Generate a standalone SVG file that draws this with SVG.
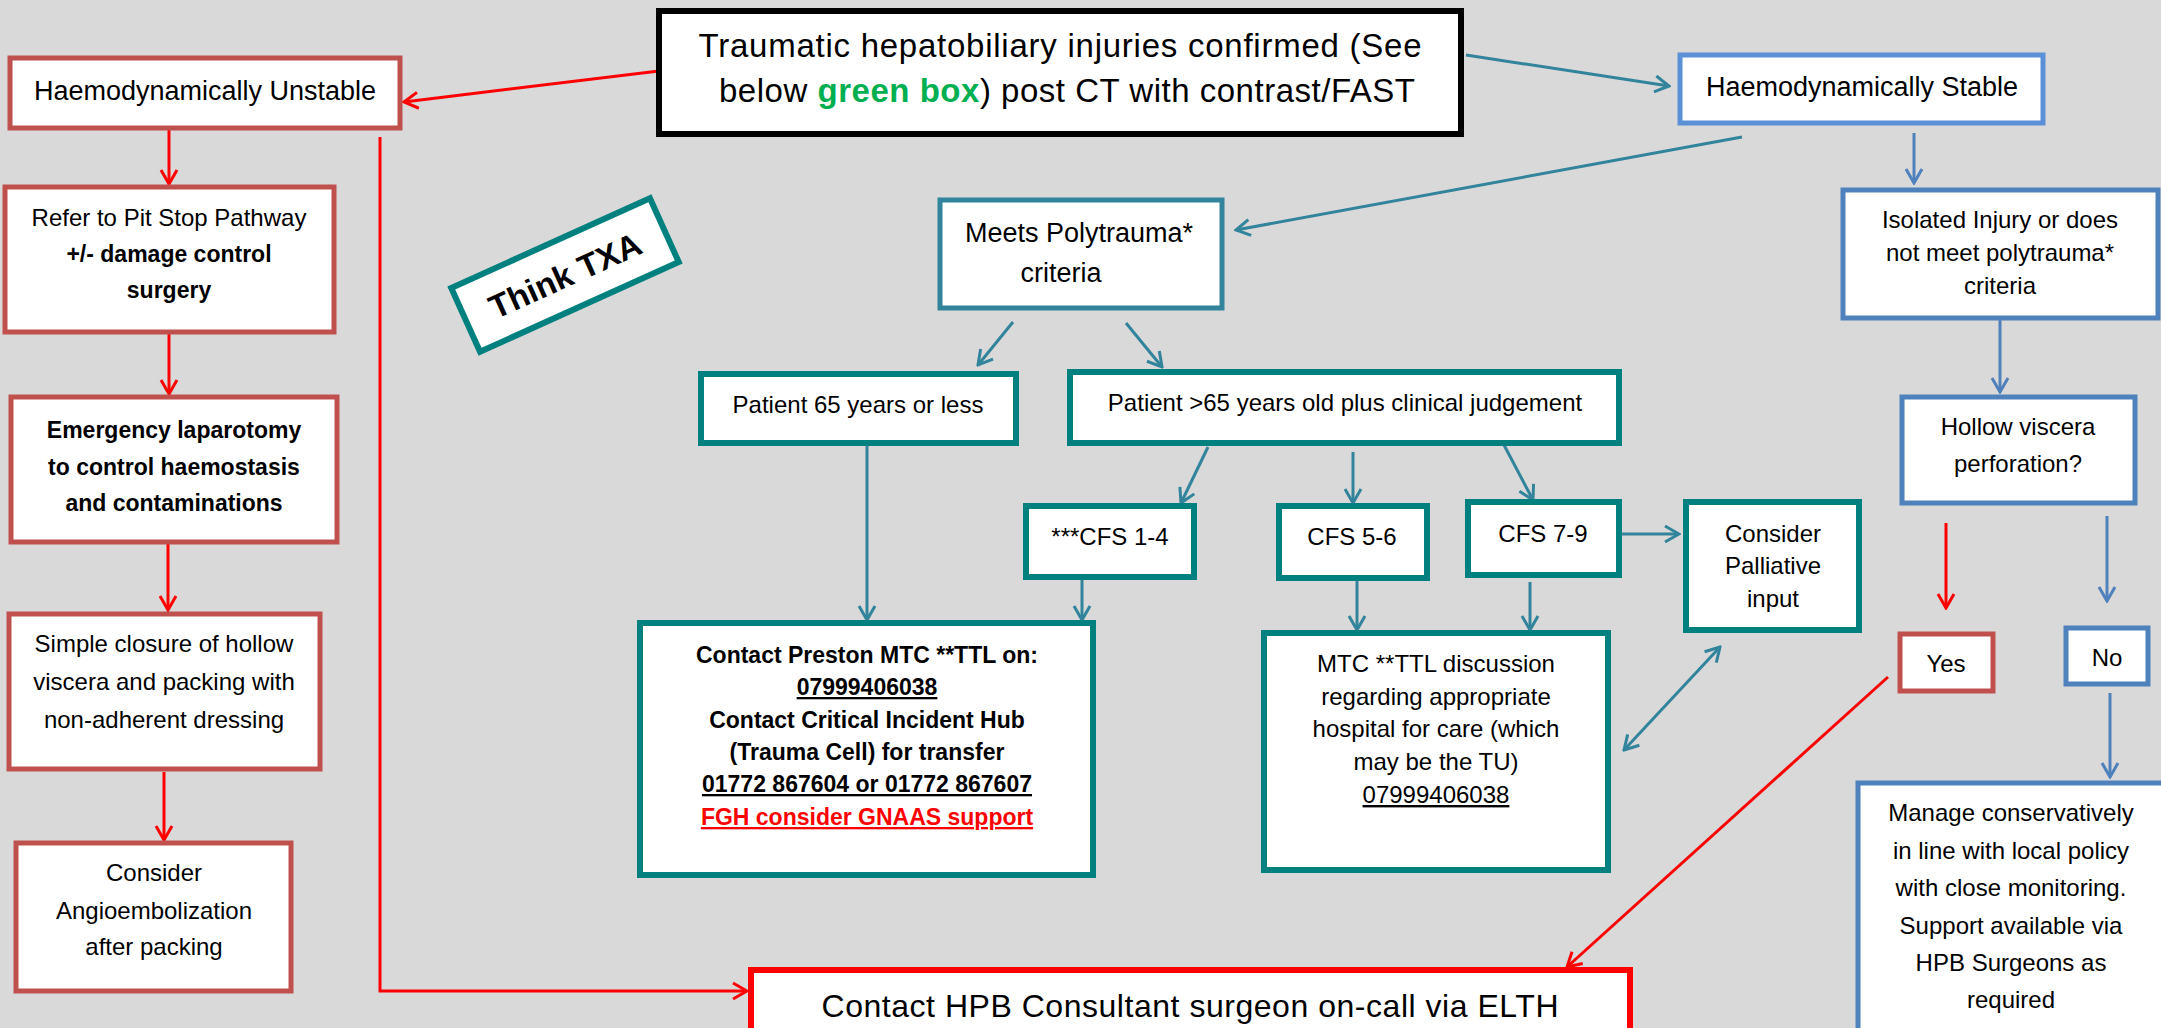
<svg xmlns="http://www.w3.org/2000/svg" width="2161" height="1028" viewBox="0 0 2161 1028">
<style>
text{font-family:"Liberation Sans",Arial,sans-serif;fill:#000;text-anchor:middle}
.t24{font-size:24px}
.t26{font-size:27px}
.b23{font-size:23px;font-weight:bold}
.box{fill:#fff}
.red{stroke:#C0504D;stroke-width:5}
.teal{stroke:#00807F;stroke-width:6}
.meet{stroke:#31849B;stroke-width:5}
.blue{stroke:#4F81BD;stroke-width:5}
.stab{stroke:#5B8FD6;stroke-width:5}
.blk{stroke:#000;stroke-width:6}
.hpb{stroke:#FF0000;stroke-width:6}
.cr{stroke:#FF0000;stroke-width:3;fill:none;marker-end:url(#ar)}
.ct{stroke:#31849B;stroke-width:3;fill:none;marker-end:url(#at)}
.cb{stroke:#4F81BD;stroke-width:3;fill:none;marker-end:url(#ab)}
.u{text-decoration:underline}
</style>
<defs>
<marker id="ar" viewBox="-16 -10 18 20" refX="0" refY="0" markerWidth="18" markerHeight="20" markerUnits="userSpaceOnUse" orient="auto"><path d="M-14,-8 L0,0 L-14,8" fill="none" stroke="#FF0000" stroke-width="3"/></marker>
<marker id="at" viewBox="-16 -10 18 20" refX="0" refY="0" markerWidth="18" markerHeight="20" markerUnits="userSpaceOnUse" orient="auto-start-reverse"><path d="M-14,-8 L0,0 L-14,8" fill="none" stroke="#31849B" stroke-width="3"/></marker>
<marker id="ab" viewBox="-16 -10 18 20" refX="0" refY="0" markerWidth="18" markerHeight="20" markerUnits="userSpaceOnUse" orient="auto"><path d="M-14,-8 L0,0 L-14,8" fill="none" stroke="#4F81BD" stroke-width="3"/></marker>
</defs>
<rect width="2161" height="1028" fill="#D9D9D9"/>

<g id="connectors">
<line class="cr" x1="659" y1="71" x2="404" y2="102"/>
<line class="cr" x1="169" y1="129" x2="169" y2="184"/>
<line class="cr" x1="169" y1="334" x2="169" y2="394"/>
<line class="cr" x1="168" y1="542" x2="168" y2="610"/>
<line class="cr" x1="164" y1="772" x2="164" y2="840"/>
<path class="cr" d="M380,137 V991 H747"/>
<line class="cr" x1="1946" y1="523" x2="1946" y2="608"/>
<line class="cr" x1="1888" y1="677" x2="1567" y2="967"/>
<line class="ct" x1="1466" y1="55" x2="1669" y2="86"/>
<line class="ct" x1="1742" y1="137" x2="1236" y2="230"/>
<line class="ct" x1="1013" y1="322" x2="978" y2="365"/>
<line class="ct" x1="1126" y1="323" x2="1162" y2="367"/>
<line class="ct" x1="867" y1="443" x2="867" y2="620"/>
<line class="ct" x1="1208" y1="447" x2="1181" y2="503"/>
<line class="ct" x1="1353" y1="452" x2="1353" y2="503"/>
<line class="ct" x1="1504" y1="445" x2="1533" y2="500"/>
<line class="ct" x1="1082" y1="577" x2="1082" y2="620"/>
<line class="ct" x1="1357" y1="578" x2="1357" y2="630"/>
<line class="ct" x1="1530" y1="582" x2="1530" y2="630"/>
<line class="ct" x1="1621" y1="534" x2="1679" y2="534"/>
<line class="ct" x1="1720" y1="647" x2="1624" y2="750" style="marker-start:url(#at)"/>
<line class="cb" x1="1914" y1="133" x2="1914" y2="183"/>
<line class="cb" x1="2000" y1="320" x2="2000" y2="392"/>
<line class="cb" x1="2107" y1="516" x2="2107" y2="601"/>
<line class="cb" x1="2110" y1="693" x2="2110" y2="777"/>
</g>

<g id="n-top">
<rect class="box blk" x="659" y="11" width="802" height="123"/>
<text x="1060" y="57" style="font-size:33px" textLength="723">Traumatic hepatobiliary injuries confirmed (See</text>
<text x="1067" y="102" style="font-size:33px" textLength="696">below <tspan style="fill:#00B050;font-weight:bold">green box</tspan>) post CT with contrast/FAST</text>
</g>

<g id="n-unstable">
<rect class="box red" x="10" y="58" width="390" height="70"/>
<text class="t26" x="205" y="100">Haemodynamically Unstable</text>
</g>

<g id="n-refer">
<rect class="box red" x="5" y="187" width="329" height="145"/>
<text class="t24" x="169" y="226">Refer to Pit Stop Pathway</text>
<text class="b23" x="169" y="262">+/- damage control</text>
<text class="b23" x="169" y="298">surgery</text>
</g>

<g id="n-emergency">
<rect class="box red" x="11" y="397" width="326" height="145"/>
<text class="b23" x="174" y="438">Emergency laparotomy</text>
<text class="b23" x="174" y="475">to control haemostasis</text>
<text class="b23" x="174" y="511">and contaminations</text>
</g>

<g id="n-simple">
<rect class="box red" x="9" y="614" width="311" height="155"/>
<text class="t24" x="164" y="652">Simple closure of hollow</text>
<text class="t24" x="164" y="690">viscera and packing with</text>
<text class="t24" x="164" y="728">non-adherent dressing</text>
</g>

<g id="n-angio">
<rect class="box red" x="16" y="843" width="275" height="148"/>
<text class="t24" x="154" y="881">Consider</text>
<text class="t24" x="154" y="919">Angioembolization</text>
<text class="t24" x="154" y="955">after packing</text>
</g>

<g id="n-txa" transform="rotate(-24.3 565 275)">
<rect class="box teal" x="456" y="240" width="218" height="70"/>
<text x="565" y="287" style="font-size:33px;font-weight:bold">Think TXA</text>
</g>

<g id="n-stable">
<rect class="box stab" x="1680" y="55" width="363" height="68"/>
<text class="t26" x="1862" y="96">Haemodynamically Stable</text>
</g>

<g id="n-meets">
<rect class="box meet" x="940" y="200" width="282" height="108"/>
<text class="t26" x="1079" y="242">Meets Polytrauma*</text>
<text class="t26" x="1061" y="282">criteria</text>
</g>

<g id="n-p65">
<rect class="box teal" x="701" y="374" width="315" height="69"/>
<text class="t24" x="858" y="413">Patient 65 years or less</text>
</g>

<g id="n-pgt65">
<rect class="box teal" x="1070" y="372" width="549" height="71"/>
<text class="t24" x="1345" y="411">Patient &gt;65 years old plus clinical judgement</text>
</g>

<g id="n-cfs14">
<rect class="box teal" x="1026" y="506" width="168" height="71"/>
<text class="t24" x="1110" y="545">***CFS 1-4</text>
</g>

<g id="n-cfs56">
<rect class="box teal" x="1279" y="506" width="148" height="72"/>
<text class="t24" x="1352" y="545">CFS 5-6</text>
</g>

<g id="n-cfs79">
<rect class="box teal" x="1468" y="502" width="151" height="73"/>
<text class="t24" x="1543" y="542">CFS 7-9</text>
</g>

<g id="n-palliative">
<rect class="box teal" x="1686" y="502" width="173" height="128"/>
<text class="t24" x="1773" y="542">Consider</text>
<text class="t24" x="1773" y="574">Palliative</text>
<text class="t24" x="1773" y="607">input</text>
</g>

<g id="n-preston">
<rect class="box teal" x="640" y="623" width="453" height="252"/>
<text class="b23" x="867" y="663">Contact Preston MTC **TTL on:</text>
<text class="b23 u" x="867" y="695">07999406038</text>
<text class="b23" x="867" y="728">Contact Critical Incident Hub</text>
<text class="b23" x="867" y="760">(Trauma Cell) for transfer</text>
<text class="b23 u" x="867" y="792">01772 867604 or 01772 867607</text>
<text class="b23 u" x="867" y="825" style="fill:#FF0000">FGH consider GNAAS support</text>
</g>

<g id="n-mtc">
<rect class="box teal" x="1264" y="633" width="344" height="237"/>
<text class="t24" x="1436" y="672">MTC **TTL discussion</text>
<text class="t24" x="1436" y="705">regarding appropriate</text>
<text class="t24" x="1436" y="737">hospital for care (which</text>
<text class="t24" x="1436" y="770">may be the TU)</text>
<text class="t24 u" x="1436" y="803">07999406038</text>
</g>

<g id="n-isolated">
<rect class="box blue" x="1843" y="190" width="315" height="128"/>
<text class="t24" x="2000" y="228">Isolated Injury or does</text>
<text class="t24" x="2000" y="261">not meet polytrauma*</text>
<text class="t24" x="2000" y="294">criteria</text>
</g>

<g id="n-hollow">
<rect class="box blue" x="1902" y="397" width="233" height="106"/>
<text class="t24" x="2018" y="435">Hollow viscera</text>
<text class="t24" x="2018" y="472">perforation?</text>
</g>

<g id="n-yes">
<rect class="box red" x="1900" y="634" width="93" height="57"/>
<text class="t24" x="1946" y="672">Yes</text>
</g>

<g id="n-no">
<rect class="box blue" x="2066" y="628" width="82" height="56"/>
<text class="t24" x="2107" y="666">No</text>
</g>

<g id="n-manage">
<rect class="box blue" x="1858" y="783" width="320" height="260"/>
<text class="t24" x="2011" y="821">Manage conservatively</text>
<text class="t24" x="2011" y="859">in line with local policy</text>
<text class="t24" x="2011" y="896">with close monitoring.</text>
<text class="t24" x="2011" y="934">Support available via</text>
<text class="t24" x="2011" y="971">HPB Surgeons as</text>
<text class="t24" x="2011" y="1008">required</text>
</g>

<g id="n-hpb">
<rect class="box hpb" x="751" y="970" width="879" height="80"/>
<text x="1190" y="1017" style="font-size:32px" textLength="737">Contact HPB Consultant surgeon on-call via ELTH</text>
</g>
</svg>
